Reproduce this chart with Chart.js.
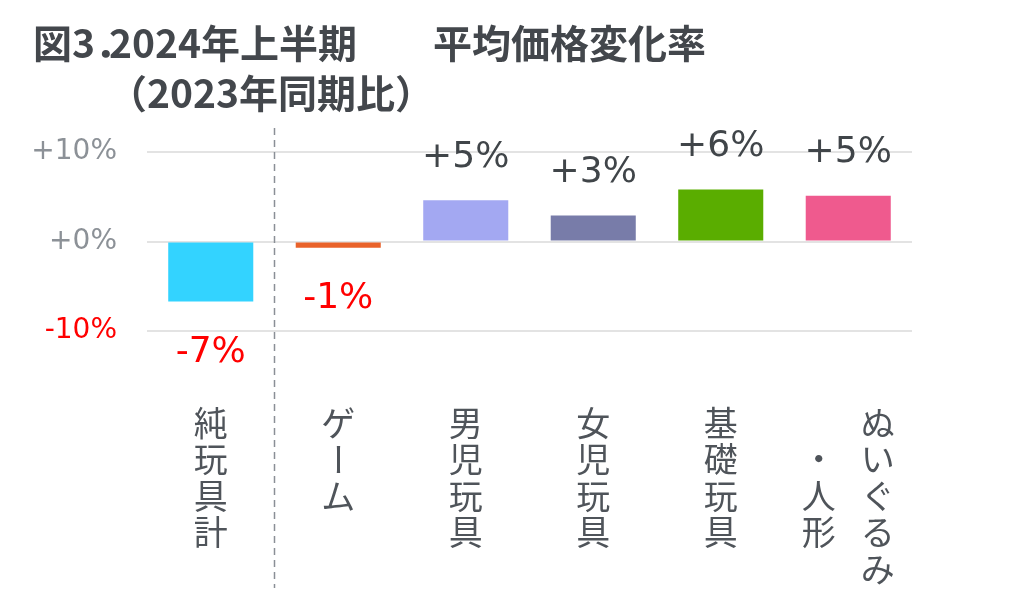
<!DOCTYPE html>
<html>
<head>
<meta charset="utf-8">
<script src="https://cdn.jsdelivr.net/npm/chart.js@4"></script>
<style>
  body { margin: 0; background: #fff; }
  #wrap { position: relative; width: 1023px; height: 592px; }
  .ttl { position: absolute; font-family: "Noto Sans CJK JP", sans-serif; font-weight: bold;
         font-size: 39px; line-height: 39px; color: #43474c; white-space: pre; }
</style>
</head>
<body>
<div id="wrap">
  <canvas id="chg"></canvas>
  <div class="ttl" style="left:33px;top:22px">図3．</div>
  <div class="ttl" style="left:109px;top:22px">2024年上半期</div>
  <div class="ttl" style="left:433px;top:22px">平均価格変化率</div>
  <div class="ttl" style="left:108px;top:72px">（2023年同期比）</div>
</div>
<script>
// Data
var categories = ['純玩具計', 'ゲーム', '男児玩具', '女児玩具', '基礎玩具', 'ぬいぐるみ・人形']
// vertical label columns, right to left
var labelColumns = [['純玩具計'], ['ゲーム'], ['男児玩具'], ['女児玩具'], ['基礎玩具'], ['ぬいぐるみ', '・人形']]
var changes = [-6.7, -0.7, 4.6, 2.9, 5.8, 5.1]
var yTicks = [-10, 0, 10]
var barColors = ['#33d3ff', '#e9622a', '#a3a8f2', '#787ca9', '#5aad00', '#ef5a8e']

function pct(v) {
    var r = Math.round(v)
    return (r >= 0 ? '+' : '') + r + '%'
}

var decor = {
    id: 'decor',
    afterDatasetsDraw: function(chart) {
        var ctx = chart.ctx
        var x = chart.scales.x
        var meta = chart.getDatasetMeta(0)

        // dashed separator after the total
        var sep = (x.getPixelForValue(0) + x.getPixelForValue(1)) / 2
        ctx.save()
        ctx.strokeStyle = '#8a8f96'
        ctx.lineWidth = 1.5
        ctx.setLineDash([7, 5])
        ctx.beginPath()
        ctx.moveTo(sep, 128)
        ctx.lineTo(sep, 588)
        ctx.stroke()
        ctx.restore()

        // value labels
        ctx.save()
        ctx.font = '36px "DejaVu Sans"'
        ctx.textAlign = 'center'
        ctx.textBaseline = 'middle'
        meta.data.forEach(function(bar, i) {
            var v = changes[i]
            if (v >= 0) {
                ctx.fillStyle = '#404549'
                ctx.fillText(pct(v), bar.x, bar.y - 43)
            } else {
                ctx.fillStyle = '#ff0000'
                ctx.fillText(pct(v), bar.x, bar.y + 51)
            }
        })
        ctx.restore()

        // vertical category labels
        ctx.save()
        ctx.font = '34px "Noto Sans CJK JP"'
        ctx.fillStyle = '#4f545a'
        ctx.textAlign = 'center'
        ctx.textBaseline = 'middle'
        labelColumns.forEach(function(cols, i) {
            var cx = x.getPixelForValue(i)
            var maxLen = Math.max.apply(null, cols.map(function(c) { return c.length }))
            cols.forEach(function(col, j) {
                var colX = cx + (cols.length - 1) / 2 * 59 - j * 59
                var off = (maxLen - col.length) / 2
                for (var k = 0; k < col.length; k++) {
                    var ch = col[k]
                    var cy = 423 + (k + off) * 36.5
                    if (ch === 'ー') {
                        ctx.save()
                        ctx.translate(colX, cy)
                        ctx.rotate(Math.PI / 2)
                        ctx.fillText(ch, 0, 0)
                        ctx.restore()
                    } else {
                        ctx.fillText(ch, colX, cy)
                    }
                }
            })
        })
        ctx.restore()
    }
}

var ctx = document.getElementById('chg').getContext('2d')
var myChart = new Chart(ctx, {
    type: 'bar',
    data: {
        labels: categories,
        datasets: [{
            label: '平均価格変化率',
            data: changes,
            backgroundColor: barColors,
            borderWidth: 0,
            categoryPercentage: 1,
            barPercentage: 0.667
        }]
    },
    options: {
        responsive: true,
        maintainAspectRatio: false,
        animation: false,
        layout: { padding: { top: 152, bottom: 261, left: 0, right: 111 } },
        plugins: {
            legend: { display: false },
            tooltip: { enabled: false }
        },
        scales: {
            x: { display: false },
            y: {
                min: yTicks[0],
                max: yTicks[yTicks.length - 1],
                afterFit: function(scale) { scale.width = 147 },
                afterBuildTicks: function(scale) {
                    scale.ticks = yTicks.map(function(v) { return { value: v } })
                },
                border: { display: false },
                grid: { color: '#e3e3e3', lineWidth: 2, drawTicks: false },
                ticks: {
                    padding: 30,
                    font: { family: 'DejaVu Sans', size: 28 },
                    color: function(c) { return c.tick.value < 0 ? '#ff0000' : '#8c9197' },
                    callback: function(v) { return pct(v) }
                }
            }
        }
    },
    plugins: [decor]
})
</script>
</body>
</html>
